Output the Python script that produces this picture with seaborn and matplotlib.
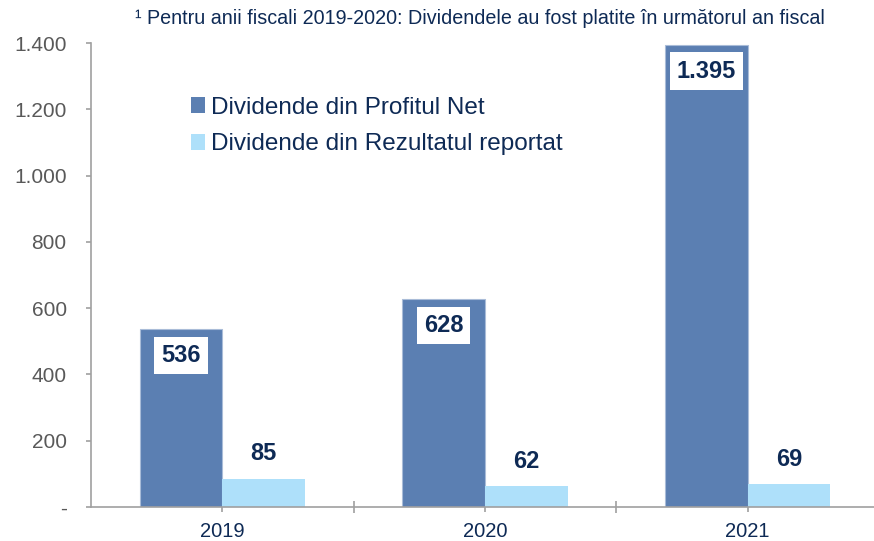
import matplotlib
matplotlib.use("Agg")
import matplotlib.pyplot as plt
from matplotlib.patches import Patch
from matplotlib.ticker import FixedLocator, FuncFormatter
import seaborn as sns
import pandas as pd

years = ["2019", "2020", "2021"]
profit_net = [536, 628, 1395]
rezultat_reportat = [85, 62, 69]
series_names = ["Dividende din Profitul Net", "Dividende din Rezultatul reportat"]
value_labels_net = ["536", "628", "1.395"]
value_labels_rep = ["85", "62", "69"]
yticks = [0, 200, 400, 600, 800, 1000, 1200, 1400]
note = "\u00b9 Pentru anii fiscali 2019-2020: Dividendele au fost platite \u00een urm\u0103torul an fiscal"

colors = ["#5B7FB2", "#AEE0FA"]
navy = "#0E2A55"
grey_txt = "#595959"
axis_col = "#A0A0A0"

df = pd.DataFrame({
    "an": years * 2,
    "valoare": profit_net + rezultat_reportat,
    "serie": [series_names[0]] * 3 + [series_names[1]] * 3,
})

sns.set_theme(style="white")
plt.rcParams["font.family"] = ["Liberation Sans", "DejaVu Sans"]

fig = plt.figure(figsize=(8.74, 5.41), dpi=100)
ax = fig.add_axes([91 / 874, 34 / 541, 788 / 874, 464 / 541])

sns.barplot(data=df, x="an", y="valoare", hue="serie", palette=colors, saturation=1,
            width=0.63, edgecolor="none", linewidth=0, ax=ax, legend=False)

ax.set_xlim(-0.5, 2.5)
ax.set_ylim(0, 1400)
ax.set_xlabel("")
ax.set_ylabel("")

# thin light outline on the net-profit bars
for bar in ax.patches[:3]:
    bar.set_edgecolor("#A9BCD8")
    bar.set_linewidth(0.8)

# spines
for s in ["top", "right"]:
    ax.spines[s].set_visible(False)
for s in ["left", "bottom"]:
    ax.spines[s].set_color(axis_col)
    ax.spines[s].set_linewidth(1.2)

ax.yaxis.set_major_locator(FixedLocator(yticks))
ax.yaxis.set_major_formatter(FuncFormatter(
    lambda v, p: "-" if v == 0 else f"{int(v):,}".replace(",", ".")))
ax.tick_params(axis="y", which="major", direction="out", length=3.5, width=1.2,
               color=axis_col, labelsize=15, labelcolor=grey_txt, pad=14, left=True)
ax.tick_params(axis="x", which="major", direction="out", length=3.5, width=1.2,
               color=axis_col, labelsize=14.5, labelcolor=navy, pad=7, bottom=True)
ax.xaxis.set_minor_locator(FixedLocator([0.5, 1.5, 2.5]))
ax.tick_params(axis="x", which="minor", direction="inout", length=8, width=1.2,
               color=axis_col, bottom=True)

# value labels
net_bars = ax.patches[:3]
rep_bars = ax.patches[3:6]
for bar, lab in zip(net_bars, value_labels_net):
    cx = bar.get_x() + bar.get_width() / 2
    ax.annotate(lab, (cx, bar.get_height()), xytext=(0, -19), textcoords="offset points",
                ha="center", va="center", fontsize=17, fontweight="bold", color=navy,
                bbox=dict(boxstyle="square,pad=0.3", fc="white", ec="none"))
for bar, lab in zip(rep_bars, value_labels_rep):
    cx = bar.get_x() + bar.get_width() / 2
    ax.annotate(lab, (cx, bar.get_height()), xytext=(0, 18), textcoords="offset points",
                ha="center", va="center", fontsize=17, fontweight="bold", color=navy)

# legend
handles = [Patch(facecolor=c, edgecolor="none") for c in colors]
leg = ax.legend(handles, series_names, loc="upper left", bbox_to_anchor=(0.115, 0.905),
                frameon=False, fontsize=17.5, handlelength=0.57, handleheight=0.62,
                handletextpad=0.25, labelspacing=0.6, borderaxespad=0)
for t in leg.get_texts():
    t.set_color(navy)

fig.text(480 / 874, 1 - 18 / 541, note, ha="center", va="center", fontsize=14.2, color=navy)

fig.savefig("out.png", dpi=100)
